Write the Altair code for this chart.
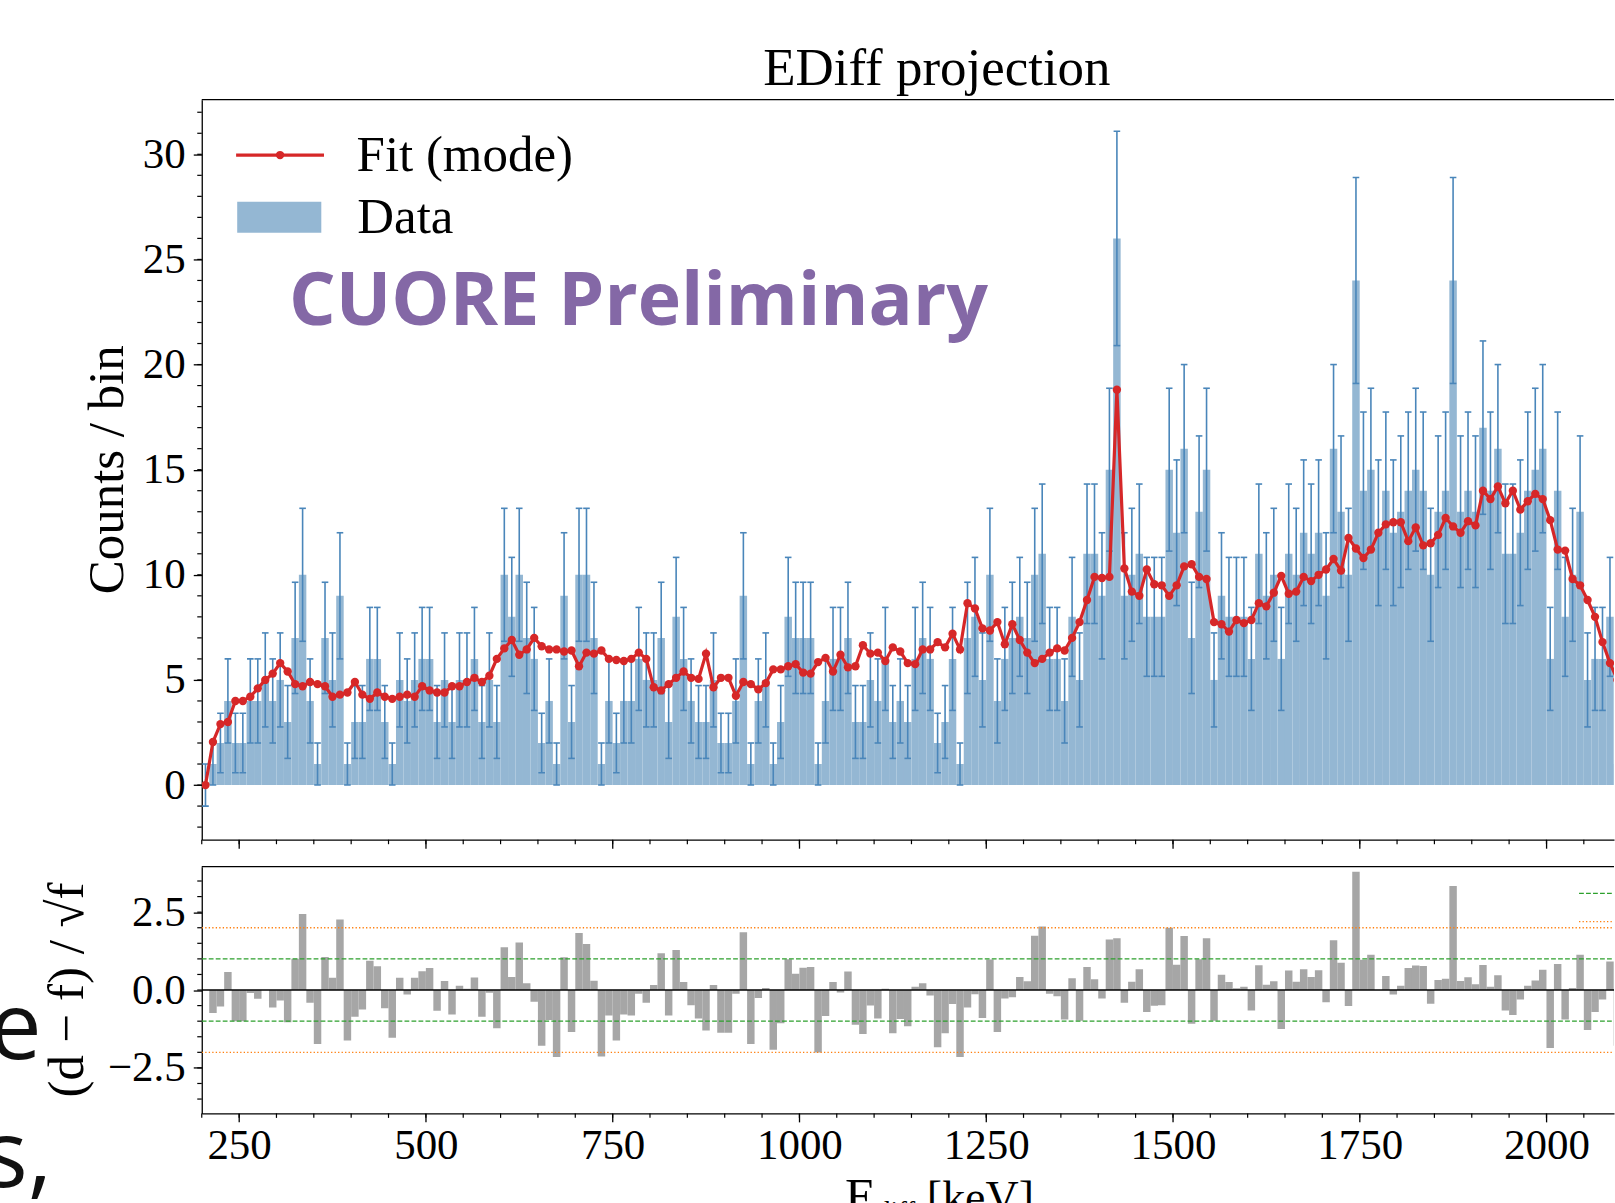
import altair as alt
import numpy as np
import pandas as pd

# ---------------- data ----------------
BIN_START = 200          # keV, left edge of first bin
BIN_WIDTH = 10           # keV

data_counts = [
    0, 1, 2, 4, 2, 2, 4, 4, 5, 4,
    5, 3, 7, 10, 4, 1, 7, 5, 9, 1,
    3, 3, 6, 6, 3, 1, 5, 4, 5, 6,
    6, 3, 5, 3, 5, 5, 6, 3, 5, 3,
    10, 8, 10, 7, 6, 2, 4, 1, 9, 3,
    10, 10, 7, 1, 4, 2, 4, 4, 6, 5,
    5, 7, 3, 8, 6, 4, 3, 3, 5, 2,
    2, 4, 9, 1, 4, 5, 1, 3, 8, 7,
    7, 7, 1, 4, 6, 6, 7, 3, 3, 5,
    4, 6, 3, 4, 3, 6, 7, 6, 2, 3,
    6, 1, 7, 8, 5, 10, 4, 6, 7, 8,
    7, 10, 11, 6, 6, 4, 8, 5, 11, 11,
    9, 15, 26, 9, 10, 11, 8, 8, 8, 15,
    12, 16, 7, 13, 15, 5, 9, 8, 8, 8,
    6, 11, 9, 10, 6, 11, 10, 12, 11, 12,
    9, 16, 13, 10, 24, 14, 15, 12, 14, 12,
    13, 14, 15, 14, 10, 13, 14, 24, 13, 14,
    13, 17, 14, 16, 11, 11, 12, 14, 15, 16,
    6, 14, 8, 10, 13, 5, 6, 6, 8, 1,
]

fit_mode = [
    0.0, 2.05, 2.9, 3.0, 4.0, 4.0, 4.2, 4.6, 5.0, 5.3,
    5.8, 5.4, 4.8, 4.7, 4.9, 4.8, 4.7, 4.2, 4.3, 4.4,
    4.9, 4.3, 4.1, 4.4, 4.2, 4.1, 4.2, 4.3, 4.2, 4.7,
    4.5, 4.4, 4.4, 4.7, 4.7, 4.9, 5.1, 4.9, 5.2, 6.0,
    6.5, 6.9, 6.2, 6.45, 7.0, 6.6, 6.45, 6.45, 6.35, 6.4,
    5.65, 6.3, 6.25, 6.4, 6.0, 5.95, 5.9, 6.0, 6.3, 6.0,
    4.65, 4.5, 4.8, 5.1, 5.4, 5.1, 5.05, 6.25, 4.65, 5.1,
    5.1, 4.25, 4.9, 4.8, 4.55, 4.85, 5.5, 5.5, 5.65, 5.75,
    5.35, 5.3, 5.85, 6.05, 5.4, 6.2, 5.6, 5.65, 6.65, 6.25,
    6.3, 5.9, 6.55, 6.35, 5.8, 5.75, 6.45, 6.45, 6.8, 6.55,
    7.2, 6.45, 8.65, 8.4, 7.45, 7.35, 7.75, 6.7, 7.65, 6.9,
    6.3, 5.8, 6.0, 6.3, 6.5, 6.4, 7.0, 7.75, 8.8, 9.9,
    9.85, 9.9, 18.8, 10.3, 9.2, 9.0, 10.25, 9.55, 9.5, 9.0,
    9.5, 10.4, 10.5, 9.9, 9.8, 7.75, 7.65, 7.3, 7.85, 7.7,
    7.85, 8.65, 8.5, 9.15, 9.95, 9.1, 9.2, 9.9, 9.7, 10.0,
    10.25, 10.75, 10.2, 11.75, 11.25, 10.8, 11.2, 12.0, 12.4, 12.5,
    12.5, 11.6, 12.25, 11.4, 11.5, 11.9, 12.7, 12.3, 12.0, 12.55,
    12.35, 14.0, 13.6, 14.2, 13.4, 14.0, 13.1, 13.5, 13.85, 13.6,
    12.6, 11.2, 11.15, 9.8, 9.5, 8.8, 8.0, 6.8, 5.8, 5.0,
]

x_ticks = [250, 500, 750, 1000, 1250, 1500, 1750, 2000]
x_minor = list(range(200, 2091, 50))
y_ticks_top = [0, 5, 10, 15, 20, 25, 30]
y_minor_top = list(range(-2, 33))
y_ticks_res = [-2.5, 0.0, 2.5]
y_minor_res = [-3.5, -3.0, -2.5, -2.0, -1.5, -1.0, -0.5, 0.0, 0.5, 1.0, 1.5, 2.0, 2.5, 3.0, 3.5]
sigma1 = [-1.0, 1.0]
sigma2 = [-2.0, 2.0]

# ---------------- derived table ----------------
n = len(data_counts)
lo = BIN_START + BIN_WIDTH * np.arange(n)
d = np.array(data_counts, dtype=float)
f = np.array(fit_mode, dtype=float)
err = np.sqrt(np.maximum(d, 1.0))
safe_f = np.where(f > 0, f, 1.0)
resid = np.where(f > 0, (d - f) / np.sqrt(safe_f), 0.0)
df = pd.DataFrame({
    "lo": lo, "hi": lo + BIN_WIDTH, "c": lo + BIN_WIDTH / 2.0,
    "d": d, "f": f, "elo": d - err, "ehi": d + err, "r": resid, "zero": 0.0,
})

# ---------------- style ----------------
SERIF = "Liberation Serif"
BAR = "#94b7d3"
EBAR = "#4a86ba"
RED = "#d62728"
RESC = "#a6a6a6"
AX = "#000000"
GREEN = "#2ca02c"
ORANGE = "#ff7f0e"
PURPLE = "#8468a6"

W = 1414
H1 = 741
H2 = 247
LEFT = 201
TOP = 98.5
CUT = 18          # slide text runs off the left edge of the page

xs = alt.Scale(domain=[200, 2090.4], nice=False, zero=False)
ys_top = alt.Scale(domain=[-2.6, 32.6], nice=False, zero=False)
ys_res = alt.Scale(domain=[-3.96, 3.96], nice=False, zero=False)

one = pd.DataFrame({"a": [0]})


def txt(text, x, y, size, font=SERIF, align="left", baseline="alphabetic",
        color="#000000", angle=0, weight="normal"):
    kw = dict(text=text, font=font, fontSize=size, align=align, baseline=baseline,
              color=color, fontWeight=weight)
    if angle:
        kw["angle"] = angle
    return alt.Chart(one).mark_text(**kw).encode(x=alt.value(x), y=alt.value(y))


def hrule(x1, x2, y, color, width, dash=None):
    kw = dict(color=color, strokeWidth=width)
    if dash:
        kw["strokeDash"] = dash
    return alt.Chart(one).mark_rule(**kw).encode(
        x=alt.value(x1), x2=alt.value(x2), y=alt.value(y))


# ---------------- top panel ----------------
x_axis_top = alt.Axis(values=x_ticks, labels=False, ticks=True, tickSize=8.5,
                      domain=True, grid=False, title=None)
y_axis_top = alt.Axis(values=y_ticks_top, format="d", tickSize=8.5, labelPadding=8,
                      grid=False, title=None)


def XT(field):
    return alt.X(field, scale=xs, axis=x_axis_top)


def YT(field):
    return alt.Y(field, scale=ys_top, axis=y_axis_top)


base = alt.Chart(df)
bars = base.mark_rect(color=BAR, clip=True).encode(
    x=XT("lo:Q"), x2="hi:Q", y=YT("d:Q"), y2="zero:Q")
ebars = base.mark_rule(color=EBAR, strokeWidth=1.6, clip=True).encode(
    x=XT("c:Q"), y=YT("elo:Q"), y2="ehi:Q")
cap_hi = base.mark_rule(color=EBAR, strokeWidth=1.6, clip=True, xOffset=-3.3, x2Offset=3.3).encode(
    x=XT("c:Q"), x2="c:Q", y=YT("ehi:Q"))
cap_lo = base.mark_rule(color=EBAR, strokeWidth=1.6, clip=True, xOffset=-3.3, x2Offset=3.3).encode(
    x=XT("c:Q"), x2="c:Q", y=YT("elo:Q"))
fit_line = base.mark_line(color=RED, strokeWidth=3.2, clip=True).encode(
    x=XT("c:Q"), y=YT("f:Q"))
fit_pts = base.mark_circle(color=RED, size=70, opacity=1, clip=True).encode(
    x=XT("c:Q"), y=YT("f:Q"))

ymin_top = alt.Chart(pd.DataFrame({"v": y_minor_top})).mark_rule(color=AX, strokeWidth=1.2).encode(
    y=YT("v:Q"), x=alt.value(-4.5), x2=alt.value(0))
xmin_top = alt.Chart(pd.DataFrame({"v": x_minor})).mark_rule(color=AX, strokeWidth=1.2).encode(
    x=XT("v:Q"), y=alt.value(H1), y2=alt.value(H1 + 4.5))
top_border = hrule(0, W, 0, AX, 1.3)

leg_line = hrule(34.4, 122.4, 55.5, RED, 3.2)
leg_dot = alt.Chart(one).mark_circle(color=RED, size=70, opacity=1).encode(
    x=alt.value(78.4), y=alt.value(55.5))
leg_rect = alt.Chart(one).mark_rect(color=BAR).encode(
    x=alt.value(35.5), x2=alt.value(119.7), y=alt.value(102.2), y2=alt.value(133.2))
leg_fit = txt("Fit (mode)", 155, 71.5, 51)
leg_data = txt("Data", 155.7, 133.2, 51)
title = txt("EDiff projection", 736, -14.5, 53, align="center")
cuore = txt("CUORE Preliminary", 87.4, 225.5, 73.5, font="Open Sans", color=PURPLE, weight="bold")
ylab_top = txt("Counts / bin", -94, H1 / 2, 51, align="center", baseline="middle", angle=270)
anchor_top = alt.Chart(one).mark_rule(color="white", strokeWidth=0.001).encode(
    x=alt.value(-LEFT - CUT), x2=alt.value(-LEFT - CUT + 0.5), y=alt.value(-TOP))

top = alt.layer(
    bars, ebars, cap_hi, cap_lo, fit_line, fit_pts, ymin_top, xmin_top, top_border,
    leg_line, leg_dot, leg_rect, leg_fit, leg_data, title, cuore, ylab_top, anchor_top,
).properties(width=W, height=H1)

# ---------------- residual panel ----------------
x_axis_res = alt.Axis(values=x_ticks, format="d", tickSize=8.5, labelPadding=3,
                      grid=False, title=None, labelFlush=False)
y_axis_res = alt.Axis(values=y_ticks_res, format=".1f", tickSize=8.5, labelPadding=8,
                      grid=False, title=None)


def XR(field):
    return alt.X(field, scale=xs, axis=x_axis_res)


def YR(field):
    return alt.Y(field, scale=ys_res, axis=y_axis_res)


rbars = base.mark_rect(color=RESC, clip=True).encode(
    x=XR("lo:Q"), x2="hi:Q", y=YR("r:Q"), y2="zero:Q")
s2 = alt.Chart(pd.DataFrame({"v": sigma2})).mark_rule(
    color=ORANGE, strokeWidth=1.3, strokeDash=[1.3, 2.2]).encode(
    y=YR("v:Q"), x=alt.value(0), x2=alt.value(W))
s1 = alt.Chart(pd.DataFrame({"v": sigma1})).mark_rule(
    color=GREEN, strokeWidth=1.3, strokeDash=[4.8, 2.2]).encode(
    y=YR("v:Q"), x=alt.value(0), x2=alt.value(W))
zline = alt.Chart(pd.DataFrame({"v": [0.0]})).mark_rule(color=AX, strokeWidth=1.4).encode(
    y=YR("v:Q"), x=alt.value(0), x2=alt.value(W))
ymin_res = alt.Chart(pd.DataFrame({"v": y_minor_res})).mark_rule(color=AX, strokeWidth=1.2).encode(
    y=YR("v:Q"), x=alt.value(-4.5), x2=alt.value(0))
xmin_res = alt.Chart(pd.DataFrame({"v": x_minor})).mark_rule(color=AX, strokeWidth=1.2).encode(
    x=XR("v:Q"), y=alt.value(H2), y2=alt.value(H2 + 4.5))
res_border = hrule(0, W, 0, AX, 1.3)
rleg1 = hrule(1379, W, 26.7, GREEN, 1.3, [4.8, 2.2])
rleg2 = hrule(1379, W, 55, ORANGE, 1.3, [1.3, 2.2])

ylab_res = txt("(d − f) / √f", -134, H2 / 2, 51, align="center", baseline="middle", angle=270)
xlab_E = txt("E", 644, 347, 51)
xlab_sub = txt("diff", 676, 354, 27)
xlab_rest = txt("[keV]", 726, 347, 46)
slide_e = txt("e", -LEFT - 12, 193, 94, font="Open Sans", color="#111111")
slide_s = txt("s,", -LEFT - CUT, 320.5, 94, font="Open Sans", color="#111111")
anchor_res = alt.Chart(one).mark_rule(color="white", strokeWidth=0.001).encode(
    x=alt.value(-LEFT - CUT), x2=alt.value(-LEFT - CUT + 0.5), y=alt.value(10))

res = alt.layer(
    rbars, s2, s1, zline, ymin_res, xmin_res, res_border, rleg1, rleg2,
    slide_e, slide_s, ylab_res, xlab_E, xlab_sub, xlab_rest, anchor_res,
).properties(width=W, height=H2)

chart = alt.vconcat(top, res, spacing=16).configure_view(
    strokeOpacity=0
).configure_axis(
    labelFont=SERIF, labelFontSize=43, labelColor="#000000",
    tickColor=AX, domainColor=AX, tickWidth=1.3, domainWidth=1.3,
).properties(padding={"left": -CUT, "top": 0, "right": 0, "bottom": 0}, background="white")

chart.save("out.html", embed_options={"renderer": "svg", "actions": False})
